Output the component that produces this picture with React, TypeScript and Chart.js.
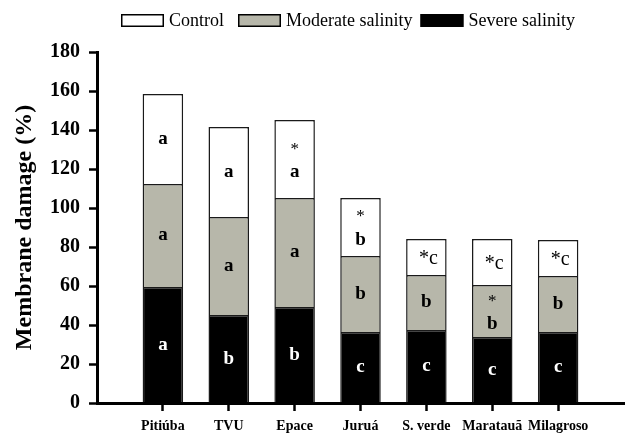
import { useEffect, useRef } from 'react';
import { Chart, registerables } from 'chart.js';

Chart.register(...registerables);

const cultivars = ['Pitiúba', 'TVU', 'Epace', 'Juruá', 'S. verde', 'Maratauã', 'Milagroso'];
const severe = [59.5, 45.1, 49.2, 36.4, 37.4, 33.8, 36.4];
const moderate = [52.8, 50.3, 55.9, 39.0, 28.2, 26.7, 28.7];
const control = [46.2, 46.1, 40.0, 29.7, 18.5, 23.6, 18.5];
const severeLetters = ['a', 'b', 'b', 'c', 'c', 'c', 'c'];
const moderateLetters = ['a', 'a', 'a', 'b', 'b', '*\nb', 'b'];
const controlLetters = ['a', 'a', '*\na', '*\nb', '*c', '*c', '*c'];
const seriesNames = ['Severe salinity', 'Moderate salinity', 'Control'];
const yTicks = [0, 20, 40, 60, 80, 100, 120, 140, 160, 180];

const SERIF = "'Liberation Serif', 'Times New Roman', 'DejaVu Serif', serif";

const letterSets = [severeLetters, moderateLetters, controlLetters];
const letterColors = ['#ffffff', '#000000', '#000000'];

const lettersPlugin = {
  id: 'letters',
  afterDatasetsDraw(chart: any) {
    const ctx = chart.ctx;
    ctx.save();
    ctx.textAlign = 'center';
    ctx.textBaseline = 'middle';
    chart.data.datasets.forEach((_ds: any, di: number) => {
      const meta = chart.getDatasetMeta(di);
      meta.data.forEach((el: any, i: number) => {
        const txt = letterSets[di][i];
        if (!txt) return;
        const mid = (el.y + el.base) / 2;
        ctx.fillStyle = letterColors[di];
        if (txt.includes('\n')) {
          const [a, b] = txt.split('\n');
          ctx.font = `17px ${SERIF}`;
          ctx.fillText(a, el.x, mid - 10);
          ctx.font = `bold 19px ${SERIF}`;
          ctx.fillText(b, el.x, mid + 13);
        } else if (txt.startsWith('*')) {
          ctx.font = `20px ${SERIF}`;
          ctx.fillText(txt, el.x + 2, mid + 2);
        } else {
          ctx.font = `bold 19px ${SERIF}`;
          ctx.fillText(txt, el.x, mid);
        }
      });
    });
    ctx.restore();
  },
};

const legendPlugin = {
  id: 'customLegend',
  afterDraw(chart: any) {
    const ctx = chart.ctx;
    ctx.save();
    ctx.font = `18px ${SERIF}`;
    ctx.textBaseline = 'middle';
    ctx.textAlign = 'left';
    let x = 121;
    const yTop = 14;
    const bw = 43;
    const bh = 13;
    const order = [2, 1, 0];
    order.forEach((di, k) => {
      const ds = chart.data.datasets[di];
      ctx.fillStyle = ds.backgroundColor;
      ctx.fillRect(x, yTop, bw, bh);
      ctx.strokeStyle = '#000';
      ctx.lineWidth = 1.5;
      ctx.strokeRect(x + 0.75, yTop + 0.75, bw - 1.5, bh - 1.5);
      x += bw + 5;
      ctx.fillStyle = '#000';
      ctx.fillText(ds.label, x, yTop + bh / 2 + 1);
      x += ctx.measureText(ds.label).width + (k === 0 ? 14 : 8);
    });
    ctx.restore();
  },
};

export default function App() {
  const ref = useRef<HTMLCanvasElement | null>(null);

  useEffect(() => {
    document.body.style.margin = '0';
    const canvas = ref.current;
    if (!canvas) return;
    const mk = (vals: number[]) => vals.map((v, i) => ({ x: i + 1, y: v }));
    const common = {
      borderColor: '#1a1a1a',
      borderWidth: 1.5,
      barPercentage: 0.615,
      categoryPercentage: 1,
    };
    const chart = new Chart(canvas, {
      type: 'bar',
      data: {
        datasets: [
          { label: seriesNames[0], data: mk(severe) as any, backgroundColor: '#000000', ...common },
          { label: seriesNames[1], data: mk(moderate) as any, backgroundColor: '#b7b7aa', ...common },
          { label: seriesNames[2], data: mk(control) as any, backgroundColor: '#ffffff', ...common },
        ],
      },
      options: {
        animation: false,
        responsive: false,
        layout: { padding: { top: 52, right: 3, left: 0, bottom: 0 } },
        plugins: {
          legend: { display: false },
          tooltip: { enabled: false },
        },
        scales: {
          x: {
            type: 'linear',
            stacked: true,
            offset: false,
            min: 0,
            max: cultivars.length + 1,
            afterBuildTicks: (scale: any) => {
              scale.ticks = cultivars.map((_c, i) => ({ value: i + 1 }));
            },
            afterFit: (scale: any) => {
              scale.height = 31;
            },
            ticks: {
              autoSkip: false,
              maxRotation: 0,
              padding: 7,
              color: '#000',
              font: { family: SERIF, size: 14, weight: 'bold' },
              callback: (v: any) => cultivars[Math.round(Number(v)) - 1] ?? '',
            },
            grid: {
              offset: false,
              drawOnChartArea: false,
              drawTicks: true,
              tickLength: 8,
              tickWidth: 2.5,
              tickColor: '#000',
              color: '#000',
            },
            border: { display: true, color: '#000', width: 3 },
          },
          y: {
            stacked: true,
            min: 0,
            max: 180,
            afterBuildTicks: (scale: any) => {
              scale.ticks = yTicks.map((v) => ({ value: v }));
            },
            afterFit: (scale: any) => {
              scale.width = 97;
            },
            ticks: {
              padding: 9,
              color: '#000',
              font: { family: SERIF, size: 20, weight: 'bold' },
            },
            grid: {
              drawOnChartArea: false,
              drawTicks: true,
              tickLength: 8,
              tickWidth: 2.5,
              tickColor: '#000',
              color: '#000',
            },
            border: { display: true, color: '#000', width: 3 },
            title: {
              display: true,
              text: 'Membrane damage (%)',
              color: '#000',
              font: { family: SERIF, size: 24, weight: 'bold' },
              padding: { top: 10, bottom: 0 },
            },
          },
        },
      },
      plugins: [lettersPlugin, legendPlugin],
    } as any);
    return () => chart.destroy();
  }, []);

  return (
    <div style={{ width: 627, height: 434 }}>
      <canvas ref={ref} width={627} height={434} />
    </div>
  );
}
